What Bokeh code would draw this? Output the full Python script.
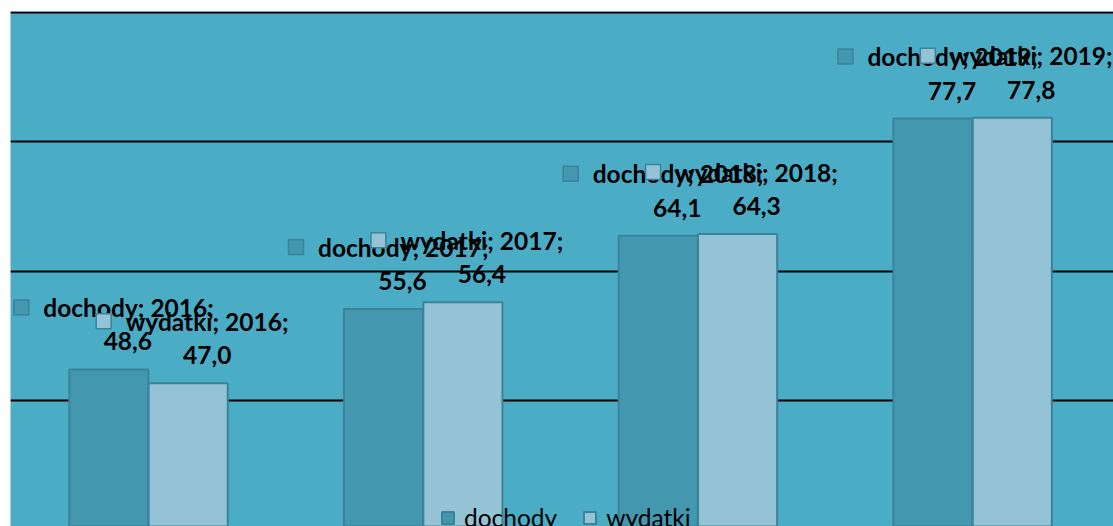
from bokeh.plotting import figure
from bokeh.models import Range1d, FixedTicker, Legend, LegendItem, Grid
from bokeh.embed import file_html
from bokeh.resources import INLINE
from bokeh.core.properties import value

# ---- data ----
years = ["2016", "2017", "2018", "2019"]
dochody = [48.6, 55.6, 64.1, 77.7]
wydatki = [47.0, 56.4, 64.3, 77.8]
series_names = ["dochody", "wydatki"]
grid_values = [45, 60, 75, 90]

# ---- layout ----
W, H = 1113, 526
BL, BT = 10, 11
FW, FH = W - BL, H - BT
X0, X1 = -0.5024, 3.5129
PY = 388 / 45.0
Y1 = 90 + 1 / PY
Y0 = Y1 - FH / PY
PX = FW / (X1 - X0)

BG = "#4BACC6"
FILLS = ["#4397AF", "#93C3D4"]
EDGE = "#3A8399"
FONT = "Lato"
FS = "24.5px"

p = figure(width=W, height=H, x_range=Range1d(X0, X1), y_range=Range1d(Y0, Y1),
           output_backend="svg", toolbar_location=None,
           x_axis_location=None, y_axis_location=None,
           min_border_left=BL, min_border_top=BT, min_border_right=0, min_border_bottom=0)
p.grid.visible = False
p.background_fill_color = BG
p.border_fill_color = "white"
p.outline_line_color = None
p.add_layout(Grid(dimension=1, ticker=FixedTicker(ticks=grid_values),
                  grid_line_color="#000000", grid_line_width=2))

bar_w = 0.288
dodge = [-0.1445, 0.1445]
line1_w = [169, 163]  # approx pixel width of first label line per series

renderers = []
for s, (name, vals) in enumerate(zip(series_names, [dochody, wydatki])):
    xb = [i + dodge[s] for i in range(len(years))]
    r = p.vbar(x=xb, top=vals, bottom=0, width=bar_w, fill_color=FILLS[s],
               line_color=EDGE, line_width=2)
    renderers.append(r)

for s, (name, vals) in enumerate(zip(series_names, [dochody, wydatki])):
    xb = [i + dodge[s] for i in range(len(years))]
    xc = [x + 19 / PX for x in xb]
    y_val = [v + 28 / PY for v in vals]
    y_l1 = [v + 62 / PY for v in vals]
    x_l1 = [x - line1_w[s] / 2 / PX for x in xc]
    x_key = [x - 22 / PX for x in x_l1]
    y_key = [v + 62 / PY for v in vals]
    p.scatter(x=x_key, y=y_key, marker="square", size=15, fill_color=FILLS[s],
              line_color=EDGE, line_width=1.5)
    p.text(x=x_l1, y=y_l1, text=[f"{name}; {yr};" for yr in years],
           text_font=value(FONT), text_font_size=FS, text_font_style="bold",
           text_color="#000000", text_align="left", text_baseline="alphabetic")
    p.text(x=xc, y=y_val, text=[f"{v:.1f}".replace(".", ",") for v in vals],
           text_font=value(FONT), text_font_size=FS, text_font_style="bold",
           text_color="#000000", text_align="center", text_baseline="alphabetic")

legend = Legend(items=[LegendItem(label=series_names[k], renderers=[renderers[k]]) for k in range(2)],
                orientation="horizontal", location=(430, -6),
                label_text_font=FONT, label_text_font_size=FS, label_text_color="#000000",
                glyph_width=15, glyph_height=15, label_standoff=9, spacing=25,
                padding=0, margin=0, border_line_alpha=0, background_fill_alpha=0)
p.add_layout(legend)

open("out.html", "w").write(file_html(p, INLINE))
